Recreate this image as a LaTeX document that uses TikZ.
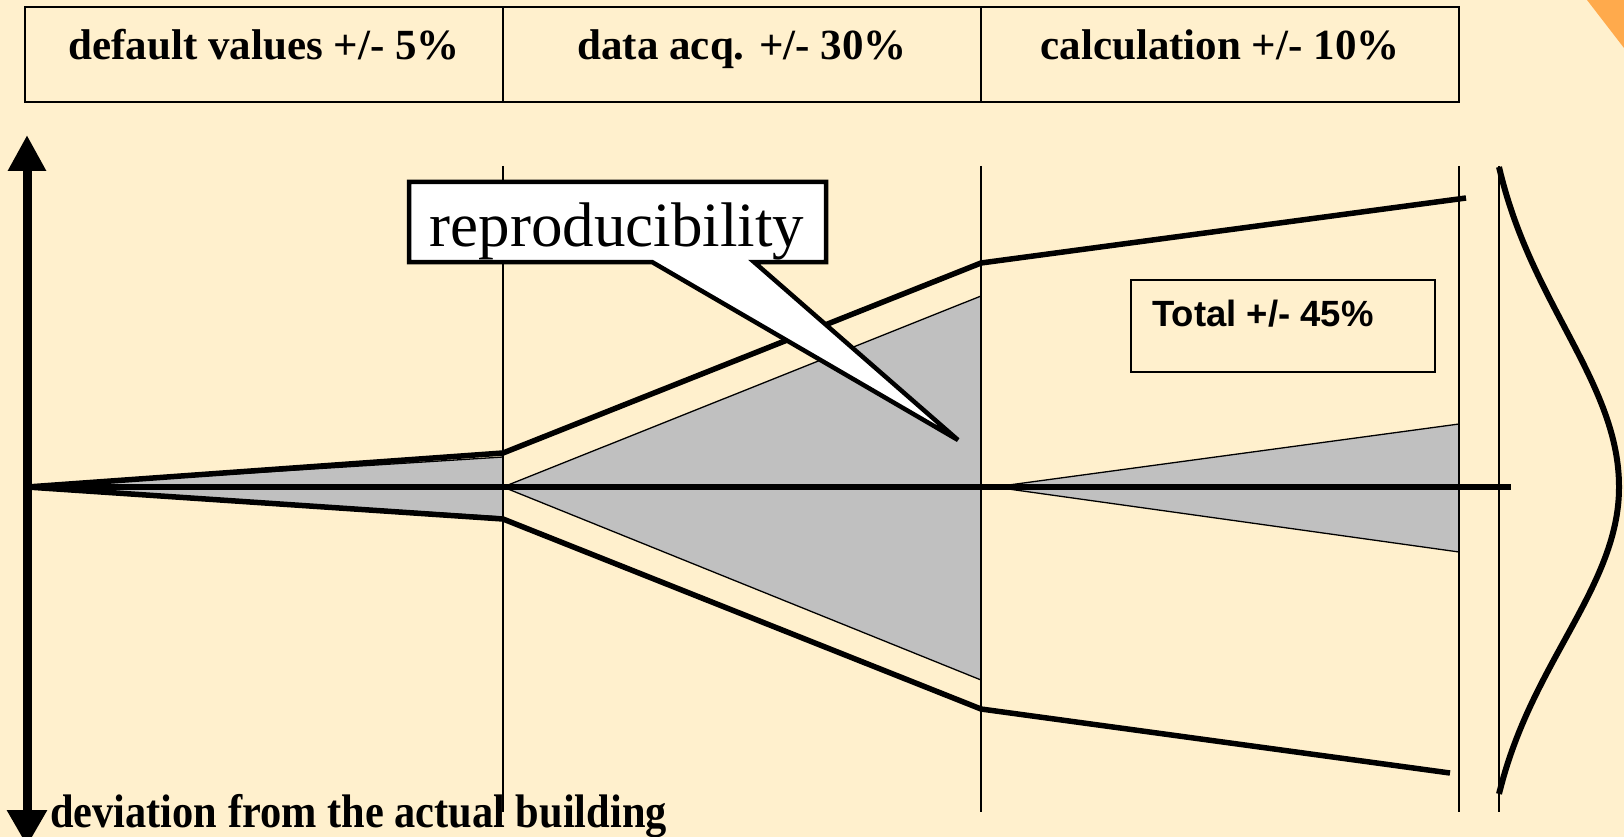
\documentclass[tikz,border=0pt]{standalone}
\usepackage{fontspec}
\setmainfont{Liberation Serif}
\newfontfamily\arialf{Liberation Sans}
\usetikzlibrary{arrows.meta}
\definecolor{bg}{RGB}{255,240,205}
\definecolor{orng}{RGB}{255,170,76}
\definecolor{gry}{RGB}{192,192,192}
\tikzset{
  topbox/.style={draw, line width=2.5, minimum width=478, minimum height=95, inner sep=0},
  toptext/.style={anchor=base, inner sep=0, font=\bfseries\fontsize{43}{50}\selectfont},
  thickline/.style={line width=5.5, line join=round},
  thinline/.style={line width=2},
  wedge/.style={fill=gry, draw, line width=1.3, line join=round},
}
\begin{document}
\begin{tikzpicture}[x=1pt,y=-1pt]
\useasboundingbox (0,0) rectangle (1624,837);
\clip (0,0) rectangle (1624,837);
\fill[bg] (0,0) rectangle (1624,837);
\fill[orng] (1587,0) -- (1624,0) -- (1624,48) -- cycle;

% header boxes
\node[topbox] (b1) at (264,54.5) {};
\node[topbox] (b2) at (742,54.5) {};
\node[topbox] (b3) at (1220,54.5) {};
\node[toptext] (t1) at (264,60) {default values +/- 5\%};
\node[toptext] (t2) at (742,60) {data acq. +/- 30\%};
\node[toptext] (t3) at (1220,60) {calculation +/- 10\%};

% gray wedges
\filldraw[wedge] (27,487) -- (503,457) -- (503,517) -- cycle;
\filldraw[wedge] (503,487) -- (981,296) -- (981,680) -- cycle;
\filldraw[wedge] (994,487) -- (1459,424) -- (1459,552) -- cycle;

% vertical separators
\foreach \xx in {503,981,1459,1499}
  \draw[thinline] (\xx,166) -- (\xx,812);

% envelopes
\draw[thickline] (27,487) -- (503,453) -- (981,263) -- (1466,198);
\draw[thickline] (27,487) -- (503,519) -- (981,709) -- (1450,773);

% axes
\draw[line width=6] (27,487) -- (1511,487);
\draw[line width=9, {Triangle[length=36pt,width=36pt]}-{Triangle[length=36pt,width=38pt]}] (27,135) -- (27,846);

% bell curve
\draw[line width=6, line join=round, variable=\t, smooth]
  plot[domain=-2:0, samples=41] ({1499+120*(exp(-\t*\t/2)-exp(-2))/(1-exp(-2))}, {487+\t*160})
  -- plot[domain=0:2, samples=41] ({1499+120*(exp(-\t*\t/2)-exp(-2))/(1-exp(-2))}, {487+\t*153.5});

% callout
\filldraw[fill=white, draw=black, line width=4.5, line join=miter]
  (409,182) -- (826,182) -- (826,262) -- (754,262) -- (958,440) -- (652,262) -- (409,262) -- cycle;
\node[anchor=base, inner sep=0, font=\fontsize{63}{70}\selectfont] (rep) at (617,246) {reproducibility};

% total box
\node[draw, line width=2, minimum width=304, minimum height=92, inner sep=0, anchor=north west] (tot) at (1130,279) {};
\node[anchor=base west, inner sep=0, font=\arialf\bfseries\fontsize{36.5}{40}\selectfont] (tott) at (1152,326) {Total +/- 45\%};

% axis label
\node[anchor=base west, inner sep=0, font=\bfseries\fontsize{42}{50}\selectfont] (dev) at (50,827) {\scalebox{1.01}[1.12]{deviation from the actual building}};
\end{tikzpicture}
\end{document}
